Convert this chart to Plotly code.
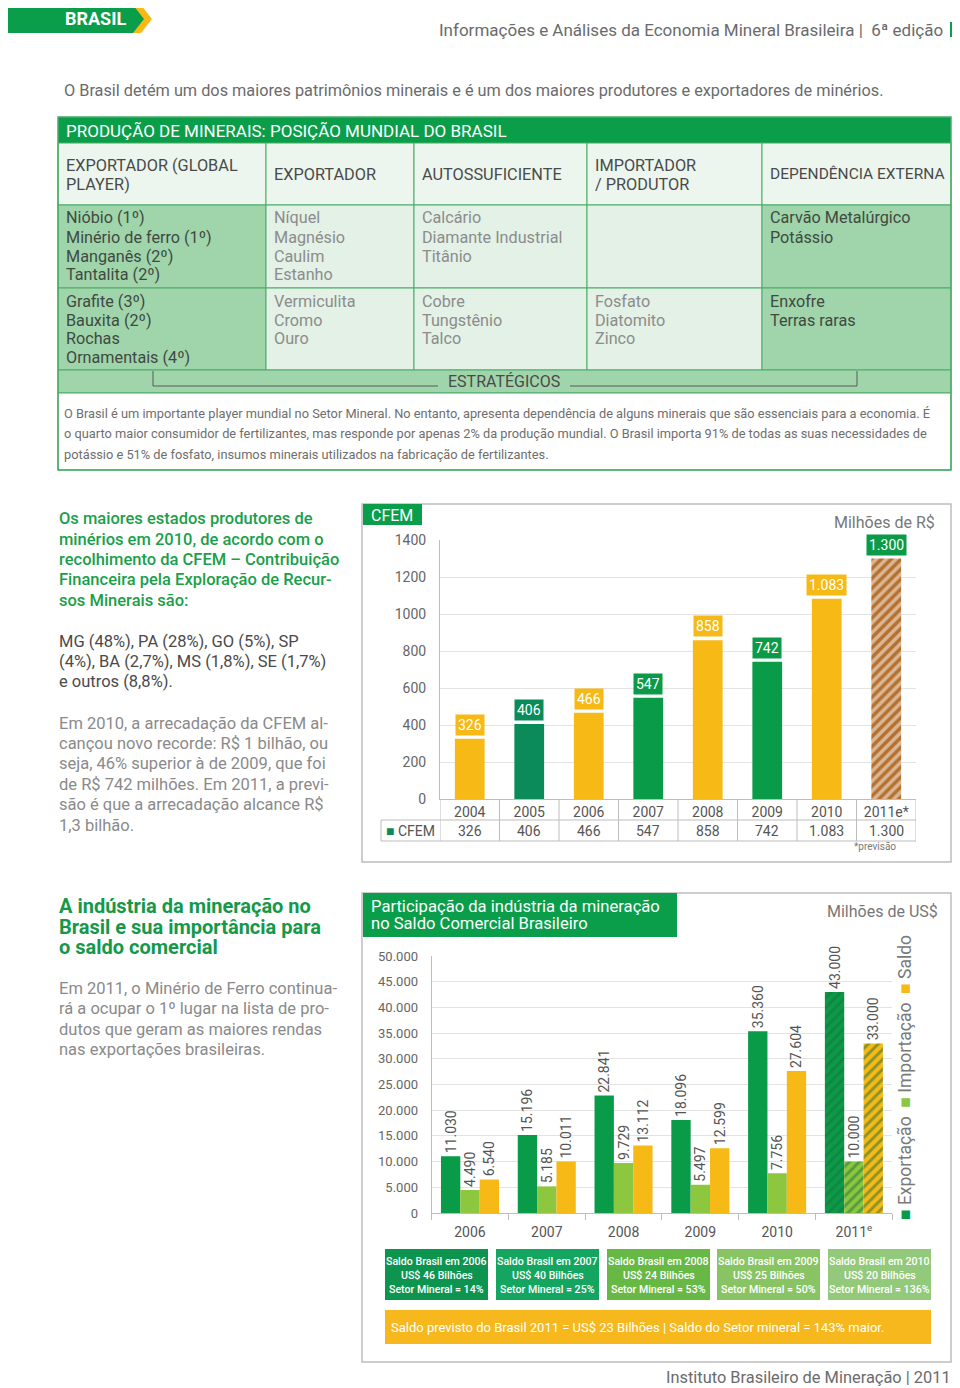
import plotly.graph_objects as go

# ---------------- DATA ----------------
cfem_years = ["2004", "2005", "2006", "2007", "2008", "2009", "2010", "2011e*"]
cfem_values = [326, 406, 466, 547, 858, 742, 1083, 1300]

trade_years = ["2006", "2007", "2008", "2009", "2010", "2011<sup>e</sup>"]
exportacao = [11030, 15196, 22841, 18096, 35360, 43000]
importacao = [4490, 5185, 9729, 5497, 7756, 10000]
saldo = [6540, 10011, 13112, 12599, 27604, 33000]

saldo_brasil_years = [2006, 2007, 2008, 2009, 2010]
saldo_brasil_bi = [46, 40, 24, 25, 20]
setor_mineral_pct = [14, 25, 53, 50, 136]

table_headers = [["EXPORTADOR (GLOBAL", "PLAYER)"], ["EXPORTADOR"], ["AUTOSSUFICIENTE"],
                 ["IMPORTADOR", "/ PRODUTOR"], ["DEPENDÊNCIA EXTERNA"]]
table_row1 = [["Nióbio (1º)", "Minério de ferro (1º)", "Manganês (2º)", "Tantalita (2º)"],
              ["Níquel", "Magnésio", "Caulim", "Estanho"],
              ["Calcário", "Diamante Industrial", "Titânio"],
              [],
              ["Carvão Metalúrgico", "Potássio"]]
table_row2 = [["Grafite (3º)", "Bauxita (2º)", "Rochas", "Ornamentais (4º)"],
              ["Vermiculita", "Cromo", "Ouro"],
              ["Cobre", "Tungstênio", "Talco"],
              ["Fosfato", "Diatomito", "Zinco"],
              ["Enxofre", "Terras raras"]]

# ---------------- STYLE ----------------
W, H = 960, 1388
FONT = "Roboto, 'Open Sans', sans-serif"
GREEN = "#0A9E4A"
DGREEN = "#0A9B48"
TEAL = "#0B8A5A"
LGREEN = "#8DC63F"
YELLOW = "#F6B916"
AXLINE = "#BDBDBD"
GRID = "#E3E3E3"
TGRID = "#49AC66"
MEDCELL = "#A0D4AB"
LIGHTCELL = "#E3F1E6"
HEADCELL = "#ECF6EE"

# page placement (the page is rendered with an offset; map target pixels to paper)
XOFF, YOFF, YSPAN = 8, 16, 1372


def px(x):
    return (x - XOFF) / W


def py(y):
    return 1 - (y - YOFF) / YSPAN


fig = go.Figure()


def rect(x0, y0, x1, y1, fill=None, line=None, lw=1, layer="below"):
    fig.add_shape(type="rect", xref="paper", yref="paper",
                  x0=px(x0), x1=px(x1), y0=py(y0), y1=py(y1),
                  fillcolor=fill if fill else "rgba(0,0,0,0)",
                  line=dict(color=line if line else "rgba(0,0,0,0)", width=lw if line else 0),
                  layer=layer)


def seg(x0, y0, x1, y1, color, lw=1):
    fig.add_shape(type="line", xref="paper", yref="paper",
                  x0=px(x0), x1=px(x1), y0=py(y0), y1=py(y1),
                  line=dict(color=color, width=lw), layer="below")


def path(points, fill=None, line=None, lw=1, close=True):
    d = "M " + " L ".join(f"{px(x):.5f},{py(y):.5f}" for x, y in points) + (" Z" if close else "")
    fig.add_shape(type="path", xref="paper", yref="paper", path=d,
                  fillcolor=fill if fill else "rgba(0,0,0,0)",
                  line=dict(color=line if line else "rgba(0,0,0,0)", width=lw if line else 0),
                  layer="below")


def txt(t, x, y, size, color, anchor="left", weight=None, angle=0, family=FONT):
    f = dict(size=size, color=color, family=family)
    if weight:
        f["weight"] = weight
    fig.add_annotation(x=px(x), y=py(y), xref="paper", yref="paper", text=t, showarrow=False,
                       xanchor=anchor, yanchor="middle", font=f, textangle=angle)


def lines(ls, x, y0, dy, size, color, anchor="left", weight=None, family=FONT):
    for i, t in enumerate(ls):
        txt(t, x, y0 + i * dy, size, color, anchor, weight, family=family)


# ---------------- HEADER ----------------
path([(0, 5), (141, 5), (152, 19), (141, 33), (0, 33)], fill=YELLOW)
path([(0, 5), (133, 5), (144, 19), (133, 33), (0, 33)], fill=GREEN)
txt("<b>BRASIL</b>", 95, 19, 18, "white", "center")
txt("Informações e Análises da Economia Mineral Brasileira |  6ª edição", 945, 30, 17, "#6b6b6b", "right")
rect(950, 22, 955, 37, fill=GREEN)
txt("O Brasil detém um dos maiores patrimônios minerais e é um dos maiores produtores e exportadores de minérios.",
    62, 91, 16.3, "#6b6b6b")

# ---------------- TABLE ----------------
cols = [58, 266, 414, 587, 762, 951]
rect(58, 117, 951, 143, fill=GREEN)
txt("PRODUÇÃO DE MINERAIS: POSIÇÃO MUNDIAL DO BRASIL", 64, 131, 17, "white")
for i in range(5):
    rect(cols[i], 143, cols[i + 1], 205, fill=HEADCELL, line=TGRID)
    hl = table_headers[i]
    hs = 15.5 if i == 4 else 16.3
    if len(hl) == 1:
        txt(hl[0], cols[i] + 6, 174, hs, "#4a4a4a")
    else:
        lines(hl, cols[i] + 6, 165, 19, hs, "#4a4a4a")
    for (r0, r1, rows) in [(205, 288, table_row1), (288, 370, table_row2)]:
        strong = i in (0, 4)
        rect(cols[i], r0, cols[i + 1], r1, fill=MEDCELL if strong else LIGHTCELL, line=TGRID)
        lines(rows[i], cols[i] + 6, r0 + 13, 19, 16.2, "#3e4a41" if strong else "#8c8c8c")
rect(58, 370, 951, 393, fill=MEDCELL, line=TGRID)
path([(153, 371), (153, 386), (438, 386)], line="#5a5a5a", lw=1, close=False)
path([(570, 386), (857, 386), (857, 371)], line="#5a5a5a", lw=1, close=False)
txt("ESTRATÉGICOS", 504, 381, 16, "#4a4a4a", "center")
rect(58, 393, 951, 470, fill="white", line=TGRID)
rect(58, 117, 951, 470, line=TGRID, lw=1.5)
lines(["O Brasil é um importante player mundial no Setor Mineral. No entanto, apresenta dependência de alguns minerais que são essenciais para a economia. É",
       "o quarto maior consumidor de fertilizantes, mas responde por apenas 2% da produção mundial. O Brasil importa 91% de todas as suas necessidades de",
       "potássio e 51% de fosfato, insumos minerais utilizados na fabricação de fertilizantes."],
      62, 413, 20.8, 12.8, "#6e6e6e")

# ---------------- LEFT TEXTS ----------------
lines(["Os maiores estados produtores de", "minérios em 2010, de acordo com o",
       "recolhimento da CFEM – Contribuição", "Financeira pela Exploração de Recur-",
       "sos Minerais são:"], 57, 519, 20.3, 16.5, "#1AA04A", weight=500)
lines(["MG (48%), PA (28%), GO (5%), SP", "(4%), BA (2,7%), MS (1,8%), SE (1,7%)", "e outros (8,8%)."],
      57, 641, 20.5, 16.5, "#4a4a4a")
lines(["Em 2010, a arrecadação da CFEM al-", "cançou novo recorde: R$ 1 bilhão, ou",
       "seja, 46% superior à de 2009, que foi", "de R$ 742 milhões. Em 2011, a previ-",
       "são é que a arrecadação alcance R$", "1,3 bilhão."], 57, 723, 20.4, 16.5, "#8a8a8a")
lines(["<b>A indústria da mineração no</b>", "<b>Brasil e sua importância para</b>", "<b>o saldo comercial</b>"],
      57, 906, 20.5, 20, "#14994A")
lines(["Em 2011, o Minério de Ferro continua-", "rá a ocupar o 1º lugar na lista de pro-",
       "dutos que geram as maiores rendas", "nas exportações brasileiras."], 57, 988, 20.6, 16.5, "#8a8a8a")

# ---------------- CHART 1 : CFEM ----------------
rect(362, 504, 951, 862, line=AXLINE, lw=1.5)
rect(363, 504, 422, 525, fill=GREEN)
txt("CFEM", 392, 515, 16, "white", "center")
txt("Milhões de R$", 937, 522, 16, "#777777", "right")

cfem_bar_colors = [YELLOW, TEAL, YELLOW, DGREEN, YELLOW, DGREEN, YELLOW, "#B5702E"]
cfem_label_colors = [YELLOW, TEAL, YELLOW, DGREEN, YELLOW, DGREEN, YELLOW, DGREEN]
cfem_patterns = ["", "", "", "", "", "", "", "/"]
fig.add_trace(go.Bar(
    x=cfem_years, y=cfem_values, width=0.5, xaxis="x", yaxis="y", hoverinfo="skip",
    marker=dict(color=cfem_bar_colors, line=dict(width=0),
                pattern=dict(shape=cfem_patterns, fillmode="overlay", fgcolor="#2E8B3C", size=7, solidity=0.5)),
))


def fmt(v):
    return f"{v:,}".replace(",", ".")


for i, (v, c) in enumerate(zip(cfem_values, cfem_label_colors)):
    fig.add_annotation(x=i, y=v, xref="x", yref="y", text=fmt(v), showarrow=False,
                       yanchor="bottom", yshift=3, bgcolor=c, borderpad=2,
                       font=dict(size=14, color="white", family=FONT))
    fig.add_annotation(x=i, y=py(830.5), xref="x", yref="paper", text=fmt(v), showarrow=False,
                       font=dict(size=14, color="#555555", family=FONT))

# value table lines under the chart
seg(381, 820, 916, 820, AXLINE)
seg(381, 841, 916, 841, AXLINE)
seg(381, 820, 381, 841, AXLINE)
for i in range(len(cfem_years) + 1):
    fig.add_shape(type="line", xref="x", yref="paper", x0=i - 0.5, x1=i - 0.5, y0=py(799), y1=py(841),
                  line=dict(color=AXLINE, width=1), layer="below")
txt(f"<span style='color:{TEAL}'>■</span> CFEM", 410, 830.5, 14, "#555555", "center")
txt("*previsão", 875, 846.5, 10, "#777777", "center")

# ---------------- CHART 2 : SALDO COMERCIAL ----------------
rect(362, 893, 951, 1362, line=AXLINE, lw=1.5)
rect(363, 893, 677, 937, fill=GREEN)
lines(["Participação da indústria da mineração", "no Saldo Comercial Brasileiro"], 369, 906, 17.5, 16.6, "white")
txt("Milhões de US$", 940, 911, 16, "#777777", "right")

hatch = ["", "", "", "", "", "/"]
bw = 0.252
for vals, col, off in [(exportacao, DGREEN, -1.5 * bw), (importacao, LGREEN, -0.5 * bw), (saldo, YELLOW, 0.5 * bw)]:
    fig.add_trace(go.Bar(
        x=trade_years, y=vals, width=bw, offset=off, xaxis="x2", yaxis="y2", hoverinfo="skip",
        marker=dict(color=col, line=dict(width=0),
                    pattern=dict(shape=hatch, fillmode="overlay", fgcolor="#1E6E3C", size=7, solidity=0.42)),
        texttemplate="%{y:,.0f}", textposition="outside", textangle=-90, constraintext="none",
        textfont=dict(size=14, color="#555555", family=FONT), cliponaxis=False,
    ))

txt(f"<span style='color:{DGREEN}'>■</span> Exportação  <span style='color:{LGREEN}'>■</span> Importação  "
    f"<span style='color:{YELLOW}'>■</span> Saldo", 905, 1078, 17.5, "#7a7a7a", "center", angle=-90)

box_x = [(385, 488), (496, 599), (607, 710), (717, 820), (828, 931)]
box_colors = ["#0D9550", "#14A560", "#67B844", "#88C463", "#93C97A"]
for (x0, x1), c, yr, sb, pct in zip(box_x, box_colors, saldo_brasil_years, saldo_brasil_bi, setor_mineral_pct):
    rect(x0, 1249, x1, 1300, fill=c)
    lines([f"Saldo Brasil em {yr}", f"US$ {sb} Bilhões", f"Setor Mineral = {pct}%"],
          (x0 + x1) / 2, 1261, 14, 10.6, "white", "center", weight=500)
rect(385, 1310, 931, 1344, fill="#F6B81C")
txt("Saldo previsto do Brasil 2011 = US$ 23 Bilhões | Saldo do Setor mineral = 143% maior.",
    389, 1327, 13, "white")

txt("Instituto Brasileiro de Mineração | 2011", 953, 1377, 16.4, "#6b6b6b", "right")

# ---------------- LAYOUT ----------------
fig.update_layout(
    width=W, height=H, margin=dict(l=0, r=0, t=0, b=0, pad=0),
    paper_bgcolor="white", plot_bgcolor="rgba(0,0,0,0)",
    showlegend=False, separators=",.", font=dict(family=FONT, color="#555555"),
    xaxis=dict(domain=[px(440), px(916)], anchor="y", type="category", range=[-0.5, len(cfem_years) - 0.5],
               showline=True, linecolor=AXLINE, linewidth=1, ticks="", showgrid=False,
               tickfont=dict(size=14, color="#555555"), fixedrange=True),
    yaxis=dict(domain=[py(799), py(540)], anchor="x", range=[0, 1400], dtick=200, tickformat="d",
               showline=True, linecolor=AXLINE, gridcolor=GRID, zeroline=False, ticks="",
               ticklabelstandoff=10, tickfont=dict(size=14, color="#666666"), fixedrange=True),
    xaxis2=dict(domain=[px(431.6), px(892.3)], anchor="y2", type="category", range=[-0.5, len(trade_years) - 0.5],
                showline=True, linecolor=AXLINE, ticks="outside", tickson="boundaries", ticklen=6,
                tickcolor=AXLINE, showgrid=False, ticklabelstandoff=6,
                tickfont=dict(size=14, color="#555555"), fixedrange=True),
    yaxis2=dict(domain=[py(1213), py(956)], anchor="x2", range=[0, 50000], dtick=5000, tickformat=",d",
                showline=True, linecolor=AXLINE, gridcolor=GRID, zeroline=False, ticks="",
                ticklabelstandoff=10, tickfont=dict(size=13, color="#666666"), fixedrange=True),
)

fig.write_html("out.html")
